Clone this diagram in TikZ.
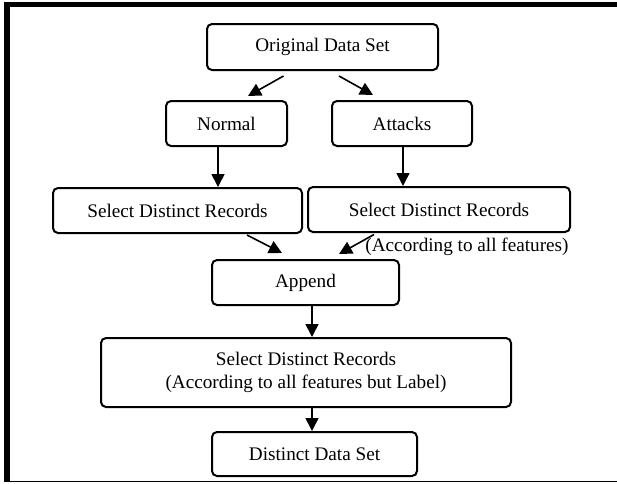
\documentclass[tikz,border=0pt]{standalone}
\usepackage{fontspec}
\setmainfont{Liberation Serif}
\usetikzlibrary{calc, positioning, arrows.meta}
\def\boxfont{\fontsize{19.2}{23}\selectfont}
\tikzstyle{every picture}=[x=1pt, y=-1pt]
\tikzstyle{stage}=[draw, rounded corners=5pt, line width=2pt, inner sep=0pt, minimum height=45pt, align=center, font=\boxfont]
\tikzstyle{flow}=[->, line width=1.6pt, >={Triangle[length=13pt,width=13pt]}]

\begin{document}
\begin{tikzpicture}
		\useasboundingbox (0,0) rectangle (617,483);
		% frame
		\fill (4,2) rectangle (617,7);
		\fill (4,2) rectangle (10,482);
		\draw[line width=1.5pt] (10,481.5) -- (617,481.5);
		% stages
		\node[stage, minimum width=231pt, minimum height=46pt] (orig) at (322.5,47) {Original Data Set};
		\node[stage, minimum width=121pt] (normal) at (226.5,123.5) {Normal};
		\node[stage, minimum width=140pt] (attacks) at (402,123.5) {Attacks};
		\node[stage, minimum width=249pt] (sdr-n) at (177.5,210.5) {Select Distinct Records};
		\node[stage, minimum width=262pt] (sdr-a) at (439,209.5) {Select Distinct Records};
		\node[font=\boxfont, inner sep=0pt] (note) at (467,247) {(According to all features)};
		\node[stage, minimum width=187pt] (append) at (305.5,282.5) {Append};
		\node[stage, minimum width=410pt, minimum height=69pt] (sdr-all) at (306,372.5) {Select Distinct Records\\(According to all features but Label)};
		\node[stage, minimum width=205pt, minimum height=44pt] (dds) at (314.5,454) {Distinct Data Set};
		% connectors
		\coordinate (n-out) at ([xshift=-8.5pt]normal.south);
		\coordinate (app-out) at ([xshift=6.5pt]append.south);
		\draw[flow] ([xshift=-39pt,yshift=-5pt]orig.south) -- ([xshift=21.5pt,yshift=4pt]normal.north);
		\draw[flow] ([xshift=16.5pt,yshift=-5pt]orig.south) -- ([xshift=-29pt,yshift=5pt]attacks.north);
		\draw[flow] (n-out) -- (n-out |- sdr-n.north);
		\draw[flow] ([xshift=1pt]attacks.south) -- ([xshift=1pt]attacks.south |- sdr-a.north);
		\draw[flow] ([xshift=69.5pt,yshift=-1pt]sdr-n.south) -- ([xshift=-23.5pt,yshift=6pt]append.north);
		\draw[flow] ([xshift=-65pt,yshift=-1.5pt]sdr-a.south) -- ([xshift=33.5pt,yshift=5pt]append.north);
		\draw[flow] (app-out) -- (app-out |- sdr-all.north);
		\draw[flow] (app-out |- sdr-all.south) -- (app-out |- dds.north);
	\end{tikzpicture}
\end{document}
